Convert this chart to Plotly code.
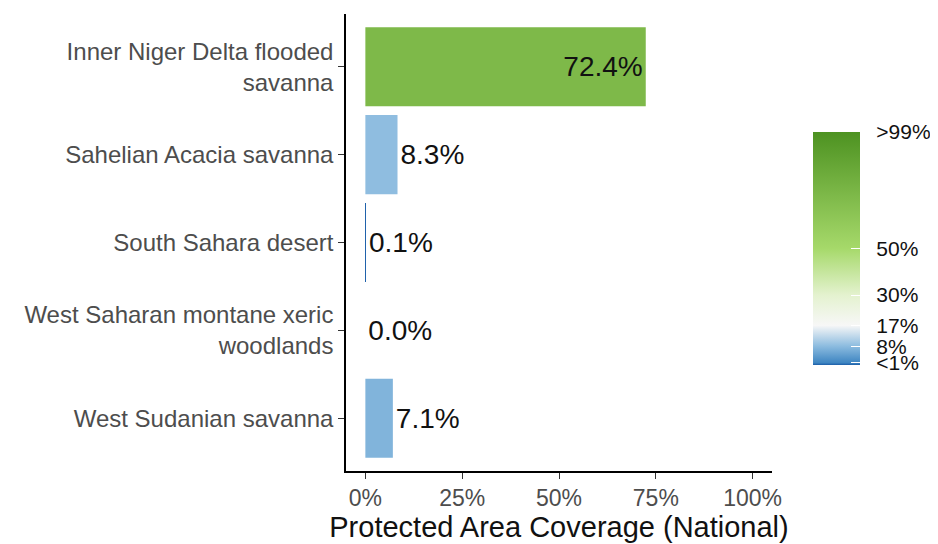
import plotly.graph_objects as go

categories = [
    "Inner Niger Delta flooded<br>savanna",
    "Sahelian Acacia savanna",
    "South Sahara desert",
    "West Saharan montane xeric<br>woodlands",
    "West Sudanian savanna",
]
values = [72.4, 8.3, 0.1, 0.0, 7.1]
labels = ["72.4%", "8.3%", "0.1%", "0.0%", "7.1%"]
x_ticks = [0, 25, 50, 75, 100]
x_ticklabels = ["0%", "25%", "50%", "75%", "100%"]
cb_tickvals = [1, 8, 17, 30, 50, 100]
cb_ticklabels = ["<1%", "8%", "17%", "30%", "50%", ">99%"]

colorscale = [
    [0.0, "#1c5ea8"],
    [0.01, "#3f86c2"],
    [0.08, "#8bbbdf"],
    [0.17, "#f7f7f7"],
    [0.30, "#e4f2cf"],
    [0.50, "#a6d96a"],
    [1.0, "#4d9221"],
]

textpos = ["inside" if v > 50 else "outside" for v in values]
pad = "\u00a0\u00a0"

fig = go.Figure(
    go.Bar(
        x=values,
        y=categories,
        orientation="h",
        width=0.9,
        text=labels,
        textposition=textpos,
        insidetextanchor="end",
        textfont=dict(size=28, color="#111111"),
        cliponaxis=False,
        marker=dict(
            color=values,
            colorscale=colorscale,
            cmin=0,
            cmax=100,
            line=dict(width=0),
            showscale=True,
            colorbar=dict(
                tickvals=cb_tickvals,
                ticktext=[pad + t for t in cb_ticklabels],
                ticks="inside",
                tickcolor="white",
                ticklen=9,
                tickwidth=1,
                outlinewidth=0,
                thickness=47,
                thicknessmode="pixels",
                len=233,
                lenmode="pixels",
                x=1.096,
                xanchor="left",
                xpad=0,
                y=0.487,
                yanchor="middle",
                ypad=0,
                tickfont=dict(size=21, color="#111111"),
            ),
        ),
    )
)

fig.update_layout(
    width=938,
    height=544,
    margin=dict(l=338, r=174, t=6, b=81, autoexpand=False),
    plot_bgcolor="white",
    paper_bgcolor="white",
    font=dict(family="Liberation Sans, Arial, sans-serif"),
    showlegend=False,
    uniformtext=dict(minsize=8, mode="show"),
)

fig.update_xaxes(
    range=[-5, 105],
    tickvals=x_ticks,
    ticktext=x_ticklabels,
    showgrid=False,
    zeroline=False,
    showline=True,
    linecolor="black",
    linewidth=1.5,
    ticks="outside",
    ticklen=6,
    tickcolor="#333333",
    tickfont=dict(size=23, color="#4d4d4d"),
    automargin=False,
    title=dict(text="Protected Area Coverage (National)", font=dict(size=29, color="#111111"), standoff=2),
)

fig.update_yaxes(
    categoryorder="array",
    categoryarray=categories,
    range=[4.6, -0.6],
    showgrid=False,
    zeroline=False,
    showline=True,
    linecolor="black",
    linewidth=1.5,
    ticks="outside",
    ticklen=6,
    tickcolor="#333333",
    tickfont=dict(size=24, color="#4d4d4d"),
    automargin=False,
)

fig.write_html("out.html")
